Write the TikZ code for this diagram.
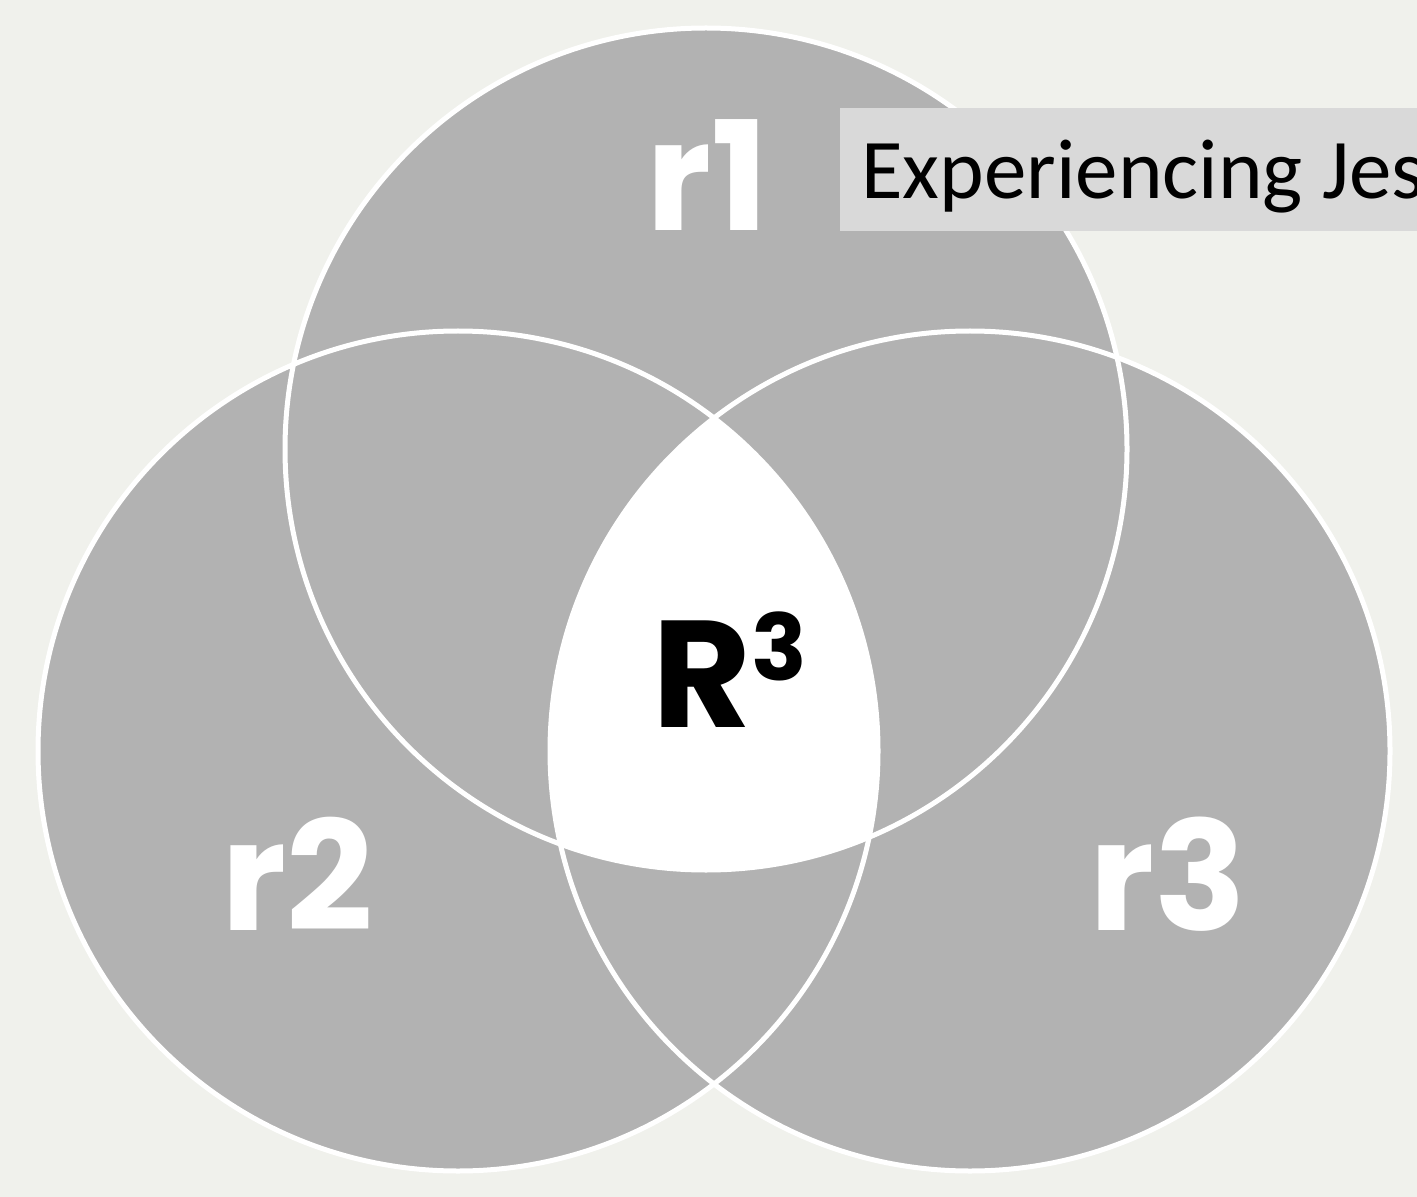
\documentclass[tikz,border=0pt]{standalone}
\usepackage{fontspec}
\newfontfamily\popfont{Poppins}
\newfontfamily\calibfont{Carlito}
\definecolor{bgcol}{HTML}{F0F1EC}
\definecolor{circgray}{HTML}{B2B2B2}
\definecolor{boxgray}{HTML}{D9D9D9}
\tikzset{
  outline/.style={draw=white, line width=2.5pt},
  biglabel/.style={text=white, inner sep=0pt, anchor=base, font=\popfont\bfseries\fontsize{76}{76}\selectfont},
}
\begin{document}
\begin{tikzpicture}[x=0.5pt,y=-0.5pt]
\useasboundingbox (0,0) rectangle (1417,1197);
\fill[bgcol] (0,0) rectangle (1417,1197);
% circle centres
\coordinate (ctop) at (706,449);
\coordinate (cleft) at (458,751);
\coordinate (cright) at (970,751);
% gray fills
\fill[circgray] (ctop) circle[radius=210.5pt];
\fill[circgray] (cleft) circle[radius=210pt];
\fill[circgray] (cright) circle[radius=210pt];
% centre region
\begin{scope}
  \clip (ctop) circle[radius=210.5pt];
  \clip (cleft) circle[radius=210pt];
  \fill[white] (cright) circle[radius=210pt];
\end{scope}
% outlines
\draw[outline] (ctop) circle[radius=210.5pt];
\draw[outline] (cleft) circle[radius=210pt];
\draw[outline] (cright) circle[radius=210pt];
% labels
\node[biglabel] (r1) at (708,231) {r1};
\node[biglabel] (r2) at (297,930) {r2};
\node[biglabel] (r3) at (1168,930) {r3};
\node[inner sep=0pt, anchor=base, text=black, font=\popfont\bfseries\fontsize{76}{76}\selectfont] (R3) at (730,727)
  {R\raisebox{23.5pt}{\fontsize{46}{46}\selectfont 3}};
% title box
\fill[boxgray] (840,108) rectangle (1440,231);
\node[inner sep=0pt, anchor=base west, text=black, font=\calibfont\fontsize{42.5}{42.5}\selectfont] (title) at (861,199) {Experiencing Jes};
\end{tikzpicture}
\end{document}
